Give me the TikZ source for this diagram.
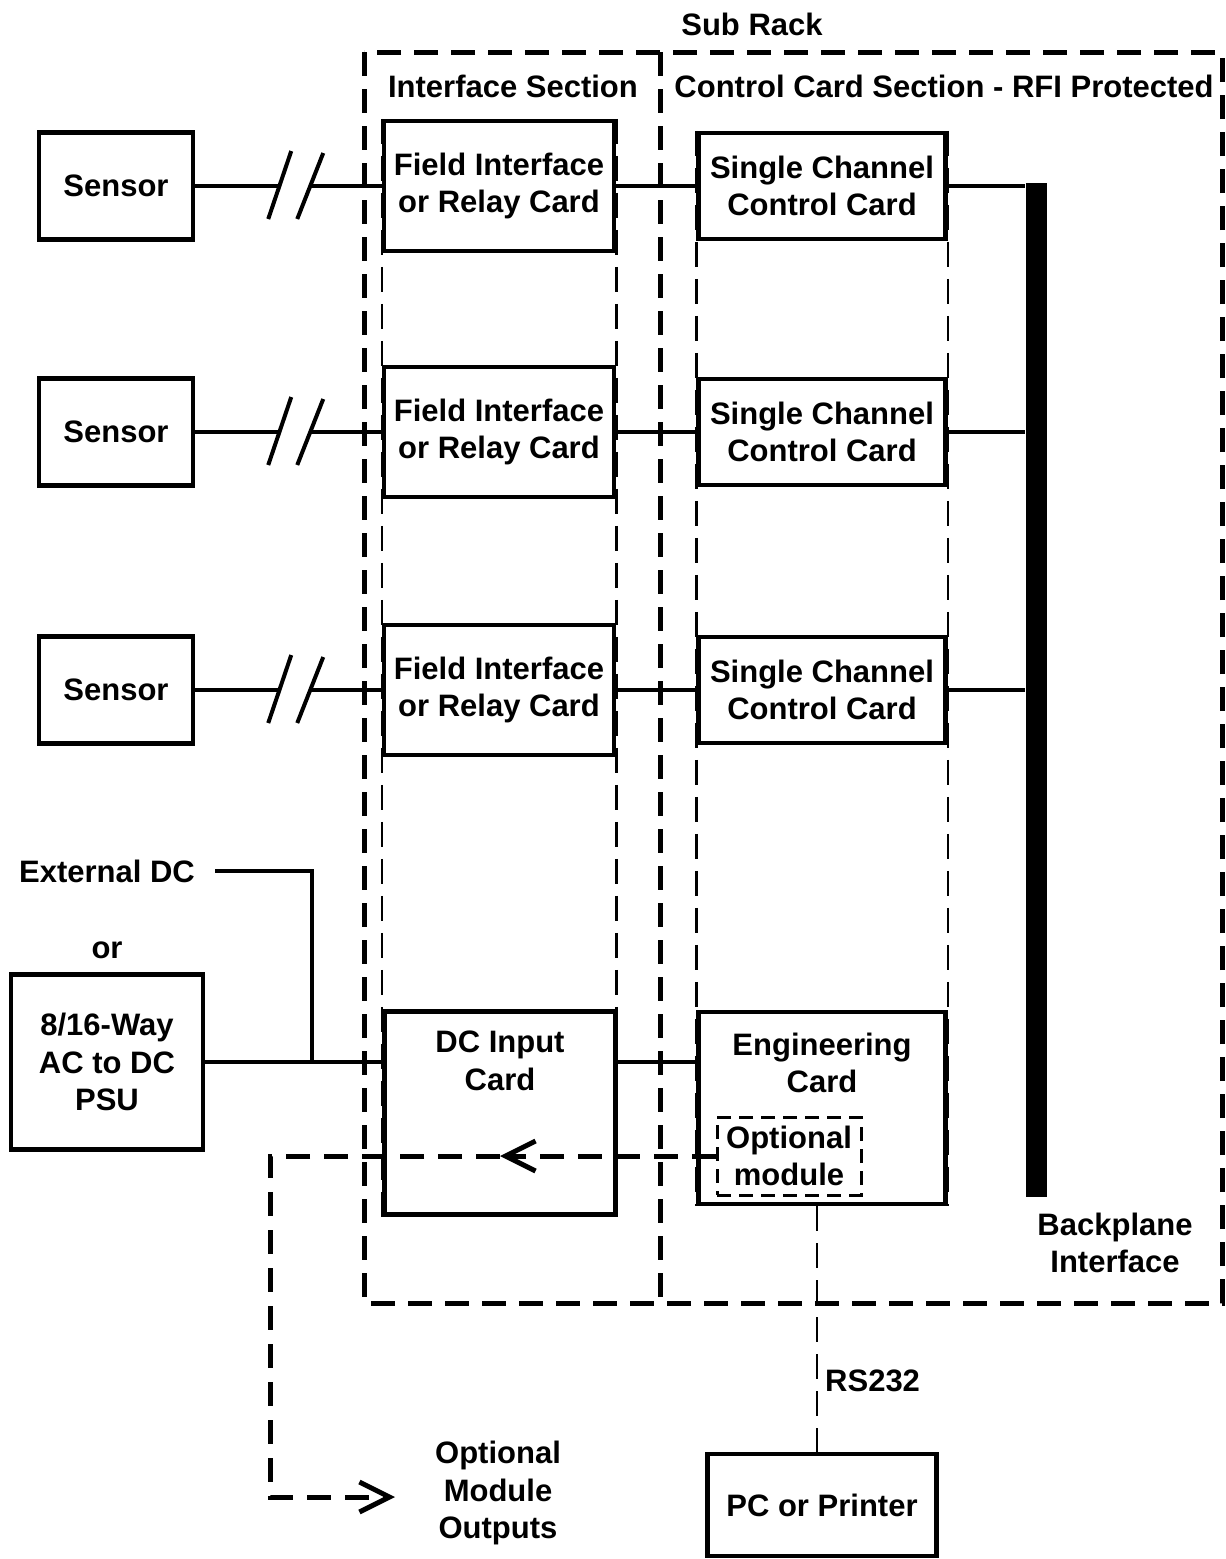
\documentclass[tikz,border=0pt]{standalone}
\usepackage{fontspec}
\setmainfont{Liberation Sans}
\usepackage{tikz}
\usetikzlibrary{arrows.meta}
\usetikzlibrary{positioning}
\tikzset{txt/.style = {font = \bfseries\fontsize{31}{37.5}\selectfont, align = center, inner sep = 0}}
\tikzset{box/.style = {txt, draw, line width = 4.5pt}}
\tikzset{wire/.style = {line width = 4pt}}
\tikzset{slot/.style = {line width = 2.5pt, dash pattern = on 25pt off 12pt}}
\tikzset{rack/.style = {line width = 5pt, dash pattern = on 24pt off 13pt}}
\tikzset{optline/.style = {line width = 5pt, dash pattern = on 24pt off 14pt, -{Straight Barb[length = 30pt, width = 30pt]}}}

\begin{document}
\begin{tikzpicture}[x = 1pt, y = -1pt]
    \useasboundingbox (0, 0) rectangle (1226, 1559);

    \draw [rack] (364, 52) rectangle (1222, 1303);
    \draw [rack] (660, 52) -- (660, 1303);
    \node [txt] (subrack) at (752, 24) {Sub Rack};
    \node [txt] (ifsec) at (513, 86) {Interface Section};
    \node [txt] (ctrlsec) at (944, 86) {Control Card Section - RFI Protected};

    \node [box, minimum width = 154, minimum height = 107] (sensorA) at (116, 186) {Sensor};
    \node [box, minimum width = 154, minimum height = 107] (sensorB) at (116, 432) {Sensor};
    \node [box, minimum width = 154, minimum height = 107] (sensorC) at (116, 690) {Sensor};

    \node [box, minimum width = 230, minimum height = 130] (fieldA) at (499, 186) {Field Interface\\or Relay Card};
    \node [box, minimum width = 230, minimum height = 130] (fieldB) at (499, 432) {Field Interface\\or Relay Card};
    \node [box, minimum width = 230, minimum height = 130] (fieldC) at (499, 690) {Field Interface\\or Relay Card};

    \node [box, minimum width = 247, minimum height = 106] (ctrlA) at (822, 186) {Single Channel\\Control Card};
    \node [box, minimum width = 247, minimum height = 106] (ctrlB) at (822, 432) {Single Channel\\Control Card};
    \node [box, minimum width = 247, minimum height = 106] (ctrlC) at (822, 690) {Single Channel\\Control Card};

    \node [fill, inner sep = 0, minimum width = 21, minimum height = 1014] (bp) at (1036, 690) {};
    \node [txt] (bplabel) at (1115, 1243) {Backplane\\Interface};

    \draw [wire] (sensorA.east) -- ++(85, 0);
    \draw [wire] ([xshift = 115]sensorA.east) -- (fieldA.west);
    \draw [wire] ([shift = {(73, 33)}]sensorA.east) -- ++(23, -68);
    \draw [wire] ([shift = {(102, 33)}]sensorA.east) -- ++(26, -66);
    \draw [wire] (sensorB.east) -- ++(85, 0);
    \draw [wire] ([xshift = 115]sensorB.east) -- (fieldB.west);
    \draw [wire] ([shift = {(73, 33)}]sensorB.east) -- ++(23, -68);
    \draw [wire] ([shift = {(102, 33)}]sensorB.east) -- ++(26, -66);
    \draw [wire] (sensorC.east) -- ++(85, 0);
    \draw [wire] ([xshift = 115]sensorC.east) -- (fieldC.west);
    \draw [wire] ([shift = {(73, 33)}]sensorC.east) -- ++(23, -68);
    \draw [wire] ([shift = {(102, 33)}]sensorC.east) -- ++(26, -66);

    \draw [wire] (fieldA.east) -- (ctrlA.west);
    \draw [wire] (fieldB.east) -- (ctrlB.west);
    \draw [wire] (fieldC.east) -- (ctrlC.west);
    \draw [wire] (ctrlA.east) -- (ctrlA.east -| bp.west);
    \draw [wire] (ctrlB.east) -- (ctrlB.east -| bp.west);
    \draw [wire] (ctrlC.east) -- (ctrlC.east -| bp.west);

    \node [txt] (extdc) at (107, 871) {External DC};
    \node [txt] (ortext) at (107, 950) {or};
    \node [box, minimum width = 192, minimum height = 175] (psu) at (107, 1062) {8/16-Way\\AC to DC\\PSU};

    \node [box, minimum width = 231, minimum height = 203] (dcin) at (500, 1113) {};
    \node [txt] (dclabel) at (500, 1061) {DC Input\\Card};
    \node [box, minimum width = 247, minimum height = 192] (eng) at (822, 1108) {};
    \node [txt] (englabel) at (822, 1063) {Engineering\\Card};
    \node [box, line width = 3pt, dash pattern = on 14pt off 8pt, minimum width = 144, minimum height = 78] (optmod) at (789, 1156) {Optional\\module};

    \draw [slot] (fieldA.north west) -- (fieldA.north west |- dcin.south);
    \draw [slot] (fieldA.north east) -- (fieldA.north east |- dcin.south);
    \draw [slot] (ctrlA.north west) -- (ctrlA.north west |- eng.south);
    \draw [slot] (ctrlA.north east) -- (ctrlA.north east |- eng.south);

    \coordinate (tee) at (312, 1062);
    \draw [wire] (psu.east) -- (psu.east -| dcin.west);
    \draw [wire] ([xshift = 20]extdc.east) -| (tee);
    \draw [wire] (dcin.east |- psu.east) -- (eng.west |- psu.east);

    \node [txt] (outputs) at (498, 1493) {Optional\\Module\\Outputs};
    \coordinate (optturn) at (270, 1156);
    \coordinate (optend) at (395, 1497);
    \draw [optline] (optmod.west) -- (optmod.west -| dclabel);
    \draw [optline] (optmod.west -| dclabel) -- (optturn) |- (optend);

    \node [box, minimum width = 229, minimum height = 102] (pc) at (822, 1505) {PC or Printer};
    \draw [slot] ([xshift = -5]eng.south) -- ([xshift = -5]pc.north);
    \node [txt, anchor = west] (rs) at (825, 1381) {RS232};
\end{tikzpicture}
\end{document}
